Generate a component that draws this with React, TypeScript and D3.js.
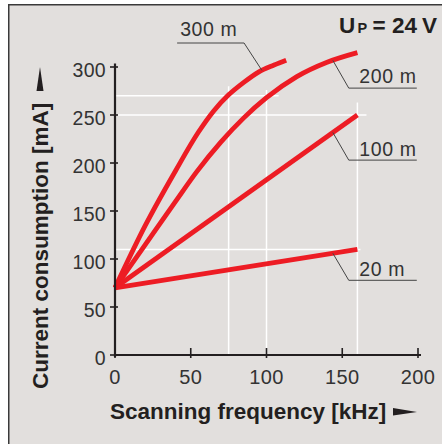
import React from 'react';
import * as d3 from 'd3';

// ---- data ----
const xTicks = [0, 50, 100, 150, 200];
const yTicks = [0, 50, 100, 150, 200, 250, 300];
const seriesNames = ['300 m', '200 m', '100 m', '20 m'];
const freq300 = [0, 20, 40, 55, 65, 75, 85, 95, 105, 113];
const cur300 = [70, 135, 192, 232, 254, 271, 284, 295, 302, 307];
const freq200 = [0, 20, 40, 54, 70, 85, 100, 120, 140, 160];
const cur200 = [70, 115, 160, 191, 222, 247, 268, 290, 305, 315];
const freq100 = [0, 160];
const cur100 = [70, 250];
const freq20 = [0, 160];
const cur20 = [70, 110];

// reference grid marks (data units)
const hGridY = [270, 250, 110];
const hGridXEnd = [108, 166, 162];
const vGridX = [75, 100, 160];
const vGridYEnd = [280, 276, 263];

// label annotations (data units)
const labelTextX = [43, 161.3, 161.3, 161.3];
const labelTextY = [332, 283, 207.3, 82.3];
const underlineX0 = [41, 154.3, 154.3, 154.3];
const underlineX1 = [85.2, 199.2, 199.2, 199.2];
const underlineY = [325, 278, 203, 77.8];
const attachX = [97, 143.8, 143.8, 143.8];

const W = 442;
const H = 444;
const RED = '#ed1c24';
const INK = '#231f20';
const TXT = '#333';

export default function App() {
  const x = d3.scaleLinear().domain([0, 200]).range([115, 418]);
  const y = d3.scaleLinear().domain([0, 300]).range([355, 67]);

  const series = [
    { f: freq300, c: cur300 },
    { f: freq200, c: cur200 },
    { f: freq100, c: cur100 },
    { f: freq20, c: cur20 },
  ];
  const line = d3
    .line<[number, number]>()
    .x((d) => x(d[0]))
    .y((d) => y(d[1]))
    .curve(d3.curveMonotoneX);

  const interp = (f: number[], c: number[], v: number) => {
    for (let i = 0; i < f.length - 1; i++) {
      if (v >= f[i] && v <= f[i + 1]) {
        const t = (v - f[i]) / (f[i + 1] - f[i]);
        return c[i] + t * (c[i + 1] - c[i]);
      }
    }
    return c[c.length - 1];
  };

  const font = "'Liberation Sans', Arial, Helvetica, sans-serif";

  return (
    <svg
      width={W}
      height={H}
      style={{ position: 'absolute', left: 0, top: 0 }}
      fontFamily={font}
    >
      <rect x={0} y={0} width={W} height={H} fill="#fff" />
      <rect x={8} y={4} width={W - 8} height={H - 4} fill="#e2dfdd" />
      <line x1={8.75} y1={4} x2={8.75} y2={H} stroke="#3a3a3a" strokeWidth={1.5} />
      <line x1={8} y1={4.75} x2={W} y2={4.75} stroke="#3a3a3a" strokeWidth={1.5} />

      {/* white reference grid */}
      {hGridY.map((v, i) => (
        <line
          key={'h' + i}
          x1={x(0) + 1}
          x2={x(hGridXEnd[i])}
          y1={y(v)}
          y2={y(v)}
          stroke="#fff"
          strokeWidth={1.5}
        />
      ))}
      {vGridX.map((v, i) => (
        <line
          key={'v' + i}
          x1={x(v)}
          x2={x(v)}
          y1={y(0)}
          y2={y(vGridYEnd[i])}
          stroke="#fff"
          strokeWidth={1.5}
        />
      ))}

      {/* curves */}
      {series.map((s, i) => (
        <path
          key={'s' + i}
          d={line(s.f.map((f, j) => [f, s.c[j]] as [number, number])) || ''}
          fill="none"
          stroke={RED}
          strokeWidth={4.8}
          strokeLinecap="butt"
          strokeLinejoin="round"
        />
      ))}

      {/* axes */}
      <line x1={x(0)} x2={x(0)} y1={y(0) + 2} y2={y(300) - 3.5} stroke={INK} strokeWidth={2.2} />
      <line x1={x(0) - 1} x2={x(200) + 3} y1={y(0)} y2={y(0)} stroke={INK} strokeWidth={2.2} />
      {yTicks.map((t) => (
        <g key={'yt' + t}>
          <line x1={x(0) - 5} x2={x(0) + 3} y1={y(t)} y2={y(t)} stroke={INK} strokeWidth={1.6} />
          <text
            x={x(0) - 9}
            y={y(t) + 9.5}
            textAnchor="end"
            fontSize={19.5}
            fill={TXT}
            letterSpacing={0.3}
          >
            {t}
          </text>
        </g>
      ))}
      {xTicks.map((t) => (
        <g key={'xt' + t}>
          <line x1={x(t)} x2={x(t)} y1={y(0) - 7} y2={y(0) + 3} stroke={INK} strokeWidth={1.6} />
          <text
            x={x(t)}
            y={y(0) + 29}
            textAnchor="middle"
            fontSize={20}
            fill={TXT}
            letterSpacing={0.3}
          >
            {t}
          </text>
        </g>
      ))}

      {/* leader labels */}
      {seriesNames.map((name, i) => {
        const s = series[i];
        const ax = attachX[i];
        const ay = interp(s.f, s.c, ax);
        const leftStart = i === 0;
        const ux0 = x(underlineX0[i]);
        const ux1 = x(underlineX1[i]);
        const uy = y(underlineY[i]);
        const knee = leftStart ? ux1 : ux0;
        return (
          <g key={'lab' + i}>
            <line x1={ux0} x2={ux1} y1={uy} y2={uy} stroke="#444" strokeWidth={1} />
            <line x1={knee} y1={uy} x2={x(ax)} y2={y(ay)} stroke="#444" strokeWidth={1} />
            <text
              x={x(labelTextX[i])}
              y={y(labelTextY[i])}
              fontSize={19.5}
              fill={TXT}
              letterSpacing={0.6}
            >
              {name}
            </text>
          </g>
        );
      })}

      {/* U_P = 24 V */}
      <g fontWeight="bold" fill={INK}>
        <text x={339} y={33} fontSize={22.5}>U</text>
        <text x={357.5} y={33} fontSize={14.5}>P</text>
        <text x={372.5} y={33} fontSize={22.5}>=</text>
        <text x={392} y={33} fontSize={22.5}>24</text>
        <text x={422} y={33} fontSize={22.5}>V</text>
      </g>

      {/* axis titles */}
      <text x={110} y={419} fontSize={22.5} fontWeight="bold" fill={INK}>
        Scanning frequency [kHz]
      </text>
      <polygon points="393,408 393,415.5 417,412" fill={INK} />

      <text
        transform="translate(48,389) rotate(-90)"
        fontSize={22.5}
        fontWeight="bold"
        fill={INK}
      >
        Current consumption [mA]
      </text>
      <polygon points="40,67 36.5,91 43.5,91" fill={INK} />
    </svg>
  );
}
